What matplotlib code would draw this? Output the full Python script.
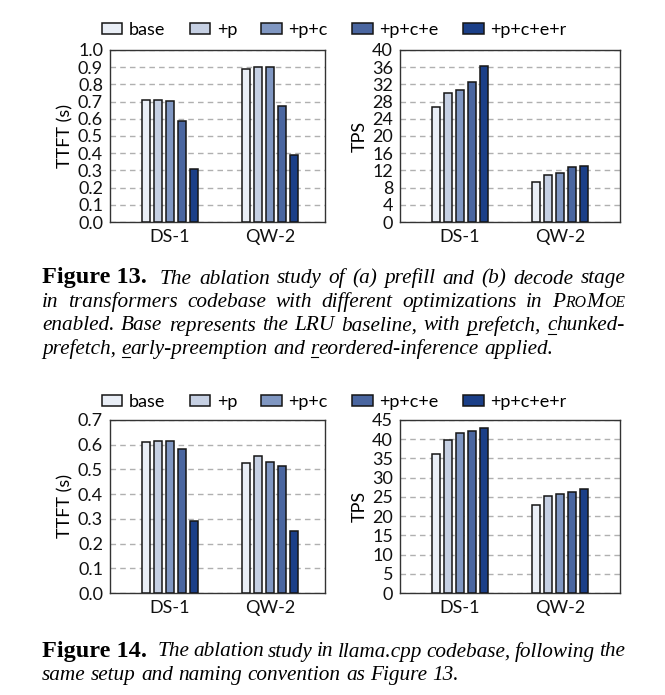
import numpy as np
import matplotlib
matplotlib.use("Agg")
import matplotlib.pyplot as plt
from matplotlib.patches import Patch
from matplotlib.lines import Line2D

# categories / series
groups = ["DS-1", "QW-2"]
variants = ["base", "+p", "+p+c", "+p+c+e", "+p+c+e+r"]
colors = ["#e9eef6", "#c6d0e3", "#8097c2", "#4a66a0", "#1b3f88"]

# Figure 13 (transformers)
tf_ttft_ds = [0.71, 0.71, 0.705, 0.585, 0.31]
tf_ttft_qw = [0.892, 0.90, 0.90, 0.675, 0.39]
tf_tps_ds = [26.7, 30.1, 30.7, 32.6, 36.2]
tf_tps_qw = [9.4, 11.0, 11.5, 12.7, 13.1]

# Figure 14 (llama.cpp)
lc_ttft_ds = [0.61, 0.615, 0.615, 0.582, 0.292]
lc_ttft_qw = [0.524, 0.553, 0.532, 0.513, 0.249]
lc_tps_ds = [36.2, 39.8, 41.6, 42.1, 42.9]
lc_tps_qw = [23.0, 25.3, 25.8, 26.4, 27.1]

W, H = 665, 695
SANS = "Lato"
SERIF = "Liberation Serif"
plt.rcParams["font.family"] = [SANS, "DejaVu Sans"]

fig = plt.figure(figsize=(W / 100, H / 100), dpi=100)


def px(x):
    return x / W


def py(y):
    return 1 - y / H


def draw_bars(ax, ds_vals, qw_vals, ymax, ystep, ylabel, fmt, xlim):
    x = np.arange(len(groups))
    for i, c in enumerate(colors):
        ax.bar(x + (i - 2) * 0.12, [ds_vals[i], qw_vals[i]], width=0.085,
               color=c, edgecolor="#151515", linewidth=1.1, zorder=3)
    ax.set_xlim(*xlim)
    ax.set_ylim(0, ymax)
    ticks = np.arange(0, ymax + ystep / 2, ystep)
    ax.set_yticks(ticks)
    ax.set_yticklabels([fmt.format(t) for t in ticks])
    ax.set_xticks(x)
    ax.set_xticklabels(groups)
    ax.tick_params(axis="both", length=0, labelsize=13, colors="#111111")
    ax.tick_params(axis="y", pad=5)
    ax.tick_params(axis="x", pad=5)
    ax.yaxis.grid(True, linestyle=(0, (4, 3)), color="#b0b0b0", linewidth=1.0, zorder=0)
    ax.set_axisbelow(True)
    for s in ax.spines.values():
        s.set_color("#333333")
        s.set_linewidth(1.0)
    ax.set_ylabel(ylabel, fontsize=13, labelpad=3)


def axes_at(x0, x1, y0, y1):
    return fig.add_axes([px(x0), py(y1), px(x1) - px(x0), (y1 - y0) / H])


ax1 = axes_at(110, 325, 50, 222)
draw_bars(ax1, tf_ttft_ds, tf_ttft_qw, 1.0, 0.1, "TTFT (s)", "{:.1f}", (-0.6, 1.55))
ax2 = axes_at(400, 620, 50, 222)
draw_bars(ax2, tf_tps_ds, tf_tps_qw, 40, 4, "TPS", "{:.0f}", (-0.6, 1.6))
ax3 = axes_at(110, 325, 420, 593)
draw_bars(ax3, lc_ttft_ds, lc_ttft_qw, 0.7, 0.1, "TTFT (s)", "{:.1f}", (-0.6, 1.55))
ax4 = axes_at(400, 620, 420, 593)
draw_bars(ax4, lc_tps_ds, lc_tps_qw, 45, 5, "TPS", "{:.0f}", (-0.6, 1.6))

handles = [Patch(facecolor=c, edgecolor="#151515", linewidth=1.1) for c in colors]
for ly in (30, 402):
    fig.legend(handles, variants, loc="center", bbox_to_anchor=(px(334), py(ly)),
               ncol=5, frameon=False, fontsize=13, handlelength=1.15,
               handleheight=0.6, handletextpad=0.35, columnspacing=1.35,
               borderpad=0, borderaxespad=0)

# captions, drawn word by word so lines can be justified
FS = 15.3
st = {
    "b": dict(family=SERIF, weight="bold", style="normal", size=17.5),
    "i": dict(family=SERIF, style="italic", size=FS),
    "s": dict(family=SERIF, style="italic", size=FS * 0.74),
}
renderer = fig.canvas.get_renderer()


def width_of(text, kind):
    t = fig.text(0, 0, text, **st[kind])
    w = t.get_window_extent(renderer).width
    t.remove()
    return w


space_w = width_of("a a", "i") - width_of("aa", "i")


def word(s, under=False):
    if under:
        return [(s[0], "i", True), (s[1:], "i", False)]
    return [(s, "i", False)]


def draw_line(words, y, x0=42, x1=625, justify=True, extra_after_first=0):
    widths = [[width_of(t, k) for t, k, u in w] for w in words]
    total = sum(sum(w) for w in widths) + extra_after_first
    gap = (x1 - x0 - total) / (len(words) - 1) if justify else space_w
    x = x0
    for i, (w, ws) in enumerate(zip(words, widths)):
        for (t, k, u), sw in zip(w, ws):
            fig.text(px(x), py(y), t, va="baseline", ha="left", **st[k])
            if u:
                fig.add_artist(Line2D([px(x + 0.5), px(x + sw - 0.5)], [py(y + 3), py(y + 3)],
                                      color="black", linewidth=0.8))
            x += sw
        x += gap
        if i == 0:
            x += extra_after_first


def plain(text):
    return [word(w) for w in text.split()]


fig13 = [[("Figure 13.", "b", False)]]
draw_line(fig13 + plain("The ablation study of (a) prefill and (b) decode stage"),
          283.5, extra_after_first=6)
draw_line(plain("in transformers codebase with different optimizations in")
          + [[("P", "i", False), ("RO", "s", False), ("M", "i", False), ("OE", "s", False)]],
          307)
draw_line(plain("enabled. Base represents the LRU baseline, with")
          + [word("prefetch,", True), word("chunked-", True)], 330.5)
draw_line([word("prefetch,"), word("early-preemption", True), word("and"),
           word("reordered-inference", True), word("applied.")], 354, justify=False)

fig14 = [[("Figure 14.", "b", False)]]
draw_line(fig14 + plain("The ablation study in llama.cpp codebase, following the"),
          656.5, extra_after_first=6)
draw_line(plain("same setup and naming convention as Figure 13."), 680, justify=False)

fig.savefig("out.png", dpi=100)
